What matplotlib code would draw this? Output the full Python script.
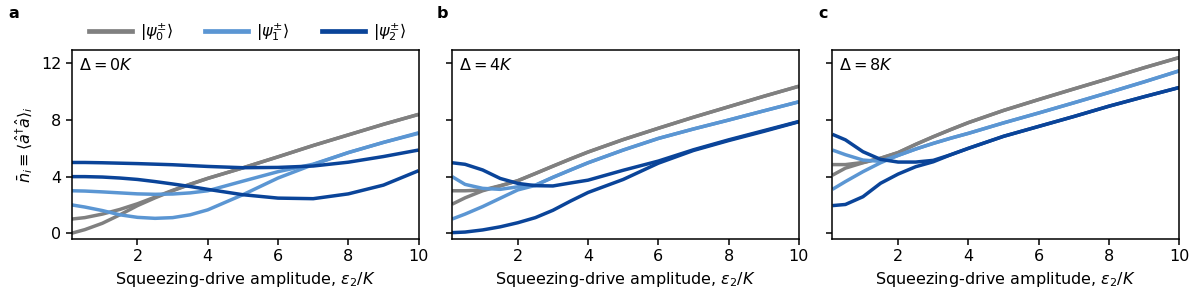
import matplotlib.pyplot as plt
from matplotlib.lines import Line2D

plt.rcParams['font.size'] = 11.5
plt.rcParams['mathtext.fontset'] = 'dejavusans'

# squeezing drive amplitude eps2/K (shared grid for all panels)
eps = [0.13, 0.5, 1, 1.5, 2, 2.5, 3, 3.5, 4, 5, 6, 7, 8, 9, 10]

# panel a: Delta = 0K
a_psi0_a = [0.0, 0.25, 0.7, 1.3, 1.95, 2.5, 3.0, 3.45, 3.87, 4.62, 5.4, 6.2, 6.95, 7.7, 8.4]
a_psi0_b = [1.0, 1.1, 1.35, 1.68, 2.08, 2.55, 3.03, 3.47, 3.88, 4.62, 5.4, 6.2, 6.95, 7.7, 8.4]
a_psi1_a = [2.0, 1.85, 1.6, 1.3, 1.12, 1.05, 1.1, 1.3, 1.65, 2.72, 3.9, 4.85, 5.7, 6.42, 7.06]
a_psi1_b = [3.0, 2.98, 2.92, 2.85, 2.78, 2.75, 2.77, 2.85, 3.0, 3.68, 4.35, 4.88, 5.7, 6.42, 7.1]
a_psi2_a = [4.0, 4.0, 3.97, 3.9, 3.8, 3.65, 3.48, 3.3, 3.1, 2.72, 2.48, 2.44, 2.78, 3.4, 4.42]
a_psi2_b = [5.0, 5.0, 4.98, 4.95, 4.92, 4.88, 4.84, 4.78, 4.72, 4.63, 4.65, 4.75, 5.02, 5.42, 5.88]

# panel b: Delta = 4K
b_psi0_a = [2.05, 2.5, 3.0, 3.34, 3.71, 4.22, 4.74, 5.25, 5.74, 6.62, 7.42, 8.2, 8.94, 9.68, 10.39]
b_psi0_b = [3.0, 3.0, 3.05, 3.36, 3.71, 4.22, 4.74, 5.25, 5.74, 6.62, 7.42, 8.2, 8.94, 9.68, 10.39]
b_psi1_a = [1.0, 1.35, 1.88, 2.47, 3.06, 3.38, 3.95, 4.47, 4.98, 5.88, 6.7, 7.37, 8.0, 8.65, 9.29]
b_psi1_b = [4.0, 3.45, 3.17, 3.1, 3.28, 3.4, 3.95, 4.47, 4.98, 5.88, 6.7, 7.37, 8.0, 8.65, 9.29]
b_psi2_a = [0.04, 0.08, 0.23, 0.45, 0.74, 1.1, 1.62, 2.27, 2.88, 3.8, 4.95, 5.85, 6.55, 7.2, 7.88]
b_psi2_b = [4.98, 4.87, 4.47, 3.87, 3.52, 3.36, 3.34, 3.55, 3.75, 4.45, 5.1, 5.9, 6.6, 7.25, 7.9]

# panel c: Delta = 8K
c_psi0_a = [4.1, 4.6, 4.98, 5.3, 5.7, 6.28, 6.82, 7.33, 7.82, 8.68, 9.45, 10.2, 10.94, 11.7, 12.42]
c_psi0_b = [4.85, 4.85, 5.0, 5.3, 5.7, 6.28, 6.82, 7.33, 7.82, 8.68, 9.45, 10.2, 10.94, 11.7, 12.42]
c_psi1_a = [3.1, 3.65, 4.35, 4.98, 5.5, 5.95, 6.35, 6.72, 7.06, 7.8, 8.5, 9.22, 9.95, 10.7, 11.48]
c_psi1_b = [5.88, 5.55, 5.17, 5.08, 5.5, 5.95, 6.35, 6.72, 7.06, 7.8, 8.5, 9.22, 9.95, 10.7, 11.48]
c_psi2_a = [1.95, 2.03, 2.58, 3.53, 4.18, 4.7, 5.05, 5.55, 6.0, 6.85, 7.55, 8.25, 8.98, 9.65, 10.3]
c_psi2_b = [6.99, 6.6, 5.76, 5.22, 5.03, 5.03, 5.15, 5.55, 6.0, 6.85, 7.55, 8.25, 8.98, 9.65, 10.3]

panels = [
    ('a', r'$\Delta = 0K$', [a_psi0_a, a_psi0_b], [a_psi1_a, a_psi1_b], [a_psi2_a, a_psi2_b]),
    ('b', r'$\Delta = 4K$', [b_psi0_a, b_psi0_b], [b_psi1_a, b_psi1_b], [b_psi2_a, b_psi2_b]),
    ('c', r'$\Delta = 8K$', [c_psi0_a, c_psi0_b], [c_psi1_a, c_psi1_b], [c_psi2_a, c_psi2_b]),
]

colors = ['#808080', '#5b96d3', '#0a4499']
state_labels = [r'$|\psi_0^{\pm}\rangle$', r'$|\psi_1^{\pm}\rangle$', r'$|\psi_2^{\pm}\rangle$']

fig = plt.figure(figsize=(11.96, 3.07), dpi=100)
lefts = [0.060, 0.378, 0.696]
tag_x = [0.007, 0.365, 0.684]
width = 0.290

for i, (tag, delta, g0, g1, g2) in enumerate(panels):
    ax = fig.add_axes([lefts[i], 0.222, width, 0.615])
    for c, pair in zip(colors, [g0, g1, g2]):
        for ys in pair:
            ax.plot(eps, ys, color=c, lw=2.5, solid_capstyle='butt')
    ax.set_xlim(0.13, 10)
    ax.set_ylim(-0.4, 12.95)
    ax.set_xticks([2, 4, 6, 8, 10])
    ax.set_yticks([0, 4, 8, 12])
    if i > 0:
        ax.set_yticklabels([])
    else:
        ax.set_ylabel(r'$\bar{n}_i \equiv \langle \hat{a}^{\dagger}\hat{a}\rangle_i$')
    ax.set_xlabel(r'Squeezing-drive amplitude, $\varepsilon_2/K$')
    ax.text(0.02, 0.965, delta, transform=ax.transAxes, ha='left', va='top')
    for s in ax.spines.values():
        s.set_linewidth(1.1)
    ax.tick_params(width=1.1, length=4)
    fig.text(tag_x[i], 0.955, tag, fontweight='bold', ha='left', va='center')

handles = [Line2D([], [], color=c, lw=3.4) for c in colors]
fig.legend(handles, state_labels, loc='center', bbox_to_anchor=(0.207, 0.895), ncol=3,
           frameon=False, handlelength=2.7, handletextpad=0.5, columnspacing=2.0)

plt.savefig('out.png')
